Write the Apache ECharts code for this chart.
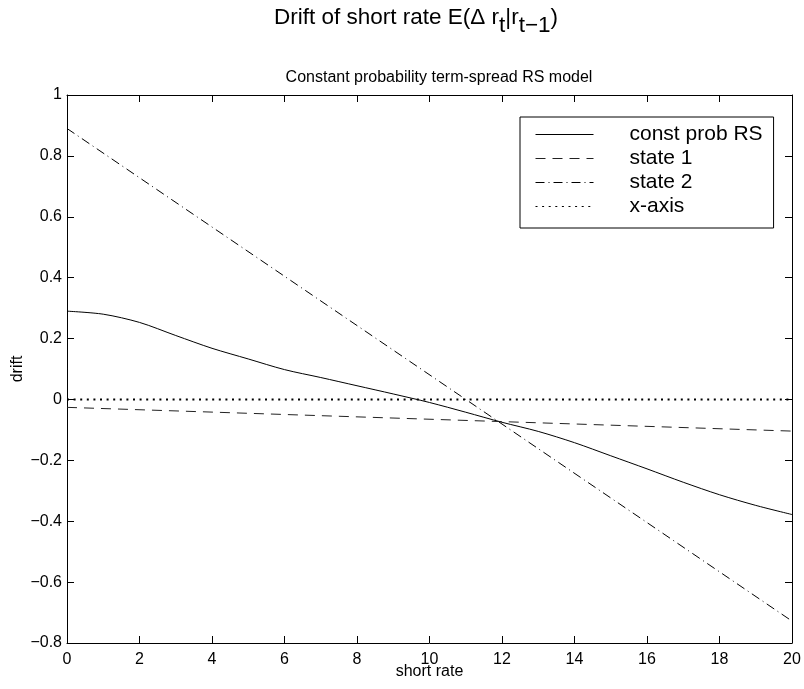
<!DOCTYPE html>
<html>
<head>
<meta charset="utf-8">
<script src="https://cdn.jsdelivr.net/npm/echarts@6/dist/echarts.min.js"></script>
<style>html,body{margin:0;padding:0;background:#fff}#c{width:804px;height:689px}</style>
</head>
<body>
<div id="c"></div>
<script>
// ---- data ----
const shortRate = [0,1,2,3,4,5,6,7,8,9,10,11,12,13,14,15,16,17,18,19,20];
const constProbRS = [0.29,0.28,0.253,0.21,0.168,0.133,0.098,0.072,0.045,0.018,-0.01,-0.042,-0.075,-0.105,-0.142,-0.185,-0.228,-0.272,-0.313,-0.348,-0.378];
const state1X = [0, 20];
const state1 = [-0.026, -0.104];
const state2X = [0, 20];
const state2 = [0.89, -0.728];
const xAxisLineX = [0, 20];
const xAxisLine = [0, 0];
const xTicks = {min: 0, max: 20, interval: 2};
const yTicks = {min: -0.8, max: 1, interval: 0.2};
const seriesNames = ['const prob RS', 'state 1', 'state 2', 'x-axis'];

const pairs = (xs, ys) => xs.map((x, i) => [x, ys[i]]);
const FONT = '"Liberation Sans", Arial, Helvetica, sans-serif';
const fmtY = v => {
  const s = String(Math.round(v * 10) / 10);
  return s.replace('-', '\u2212');
};

const chart = echarts.init(document.getElementById('c'), null, {renderer: 'canvas'});
const axisCommon = {
  axisLine: {show: true, onZero: false, lineStyle: {color: '#000', width: 1}},
  axisTick: {show: true, inside: true, length: 7, lineStyle: {color: '#000'}},
  splitLine: {show: false}
};
chart.setOption({
  animation: false,
  backgroundColor: '#fff',
  title: [
    {
      text: 'Drift of short rate E(\u0394 r{s|t}|r{s|t\u22121})',
      left: 411, textAlign: 'center', top: -6,
      textStyle: {
        fontFamily: FONT, fontWeight: 'normal', color: '#000', fontSize: 22.5, lineHeight: 38,
        rich: {
          s: {fontSize: 22.5, fontFamily: FONT, color: '#000', verticalAlign: 'bottom'}
        }
      }
    },
    {
      text: 'Constant probability term-spread RS model',
      left: 434, textAlign: 'center', top: 65,
      textStyle: {fontFamily: FONT, fontWeight: 'normal', fontSize: 16, color: '#000'}
    }
  ],
  legend: {
    orient: 'vertical',
    left: 520, top: 117,
    data: seriesNames,
    padding: [7, 11, 11, 15],
    itemGap: 3,
    itemWidth: 58, itemHeight: 16,
    backgroundColor: '#fff',
    borderColor: '#000', borderWidth: 1,
    lineStyle: {width: 1},
    itemStyle: {color: 'rgba(0,0,0,0)', borderColor: 'rgba(0,0,0,0)', borderWidth: 0},
    textStyle: {fontFamily: FONT, fontSize: 21, color: '#000', padding: [0, 0, 0, 31]}
  },
  grid: {left: 67, right: 12, top: 95, bottom: 46, containLabel: false, outerBoundsMode: 'none'},
  xAxis: [
    Object.assign({
      type: 'value', position: 'bottom', min: xTicks.min, max: xTicks.max, interval: xTicks.interval,
      name: 'short rate', nameLocation: 'middle', nameGap: 21, nameMoveOverlap: false,
      nameTextStyle: {fontFamily: FONT, fontSize: 16, color: '#000'},
      axisLabel: {fontFamily: FONT, fontSize: 16, color: '#000', margin: 9}
    }, axisCommon),
    Object.assign({
      type: 'value', position: 'top', min: xTicks.min, max: xTicks.max, interval: xTicks.interval,
      axisLabel: {show: false}
    }, axisCommon)
  ],
  yAxis: [
    Object.assign({
      type: 'value', position: 'left', min: yTicks.min, max: yTicks.max, interval: yTicks.interval,
      name: 'drift', nameLocation: 'middle', nameGap: 41, nameMoveOverlap: false,
      nameTextStyle: {fontFamily: FONT, fontSize: 16, color: '#000'},
      axisLabel: {fontFamily: FONT, fontSize: 16, color: '#000', margin: 5, formatter: fmtY}
    }, axisCommon),
    Object.assign({
      type: 'value', position: 'right', min: yTicks.min, max: yTicks.max, interval: yTicks.interval,
      axisLabel: {show: false}
    }, axisCommon)
  ],
  series: [
    {
      name: seriesNames[0], type: 'line', smooth: 0.3, showSymbol: false, symbol: 'none',
      data: pairs(shortRate, constProbRS),
      lineStyle: {color: '#000', width: 1, type: 'solid'}, itemStyle: {color: '#000'}
    },
    {
      name: seriesNames[1], type: 'line', showSymbol: false, symbol: 'none',
      data: pairs(state1X, state1),
      lineStyle: {color: '#222', width: 1, type: [10, 7]}, itemStyle: {color: '#222'}
    },
    {
      name: seriesNames[2], type: 'line', showSymbol: false, symbol: 'none',
      data: pairs(state2X, state2),
      lineStyle: {color: '#000', width: 1, type: [9, 4, 1, 4]}, itemStyle: {color: '#000'}
    },
    {
      name: seriesNames[3], type: 'line', showSymbol: false, symbol: 'none',
      data: pairs(xAxisLineX, xAxisLine),
      lineStyle: {color: '#000', width: 2, type: [2, 4.6]}, itemStyle: {color: '#000'}
    }
  ]
});
</script>
</body>
</html>
